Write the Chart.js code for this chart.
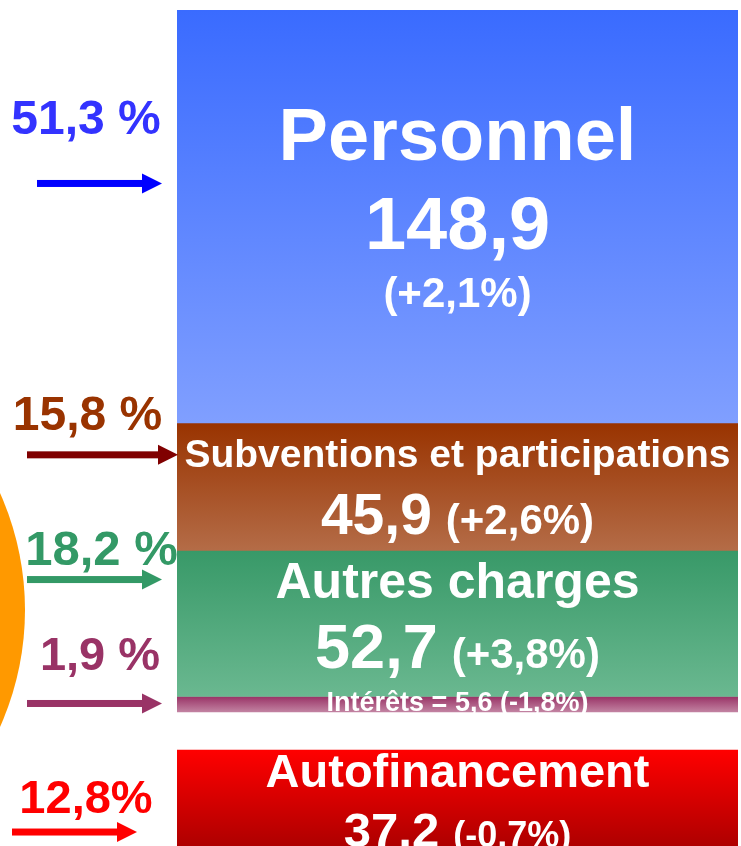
<!DOCTYPE html>
<html lang="fr">
<head>
<meta charset="UTF-8">
<title>Dépenses de fonctionnement</title>
<style>
  body { margin: 0; background: #fff; }
  #wrap { width: 741px; height: 846px; position: relative; }
</style>
</head>
<body>
<div id="wrap"><canvas id="myChart"></canvas></div>

<script src="https://cdn.jsdelivr.net/npm/chart.js"></script>
<script>
// values
const categories = ['Personnel', 'Subventions et participations', 'Autres charges', 'Intérêts', 'Autofinancement'];
const amounts = [148.9, 45.9, 52.7, 5.6, 37.2];
const changes = [2.1, 2.6, 3.8, -1.8, -0.7];
const shareLabels = ['51,3 %', '15,8 %', '18,2 %', '1,9 %', '12,8%'];

const topColors = ['#3a6bff', '#993300', '#389968', '#993366', '#ff0000'];
const bottomColors = ['#809fff', '#b46c47', '#6ab890', '#c283a2', '#a80000'];
const textColors = ['#3333ff', '#993300', '#339966', '#993366', '#ff0000'];
const arrowColors = ['#0000ff', '#800000', '#339966', '#993366', '#ff0000'];

function fr(v) { return String(v).replace('.', ','); }
function pct(v) { return '(' + (v > 0 ? '+' : '') + fr(v) + '%)'; }
function font(size) { return 'bold ' + size + 'px "Liberation Sans", Arial, sans-serif'; }

// charges stack on y, autofinancement sits on its own axis below a gap
function axisOf(i) { return i < 4 ? 'y' : 'y2'; }

function gradientFor(c, i) {
    const chart = c.chart;
    if (!chart.chartArea) return topColors[i];
    const scale = chart.scales[axisOf(i)];
    let start = 0;
    if (i < 4) {
        for (let k = 0; k < i; k++) start += amounts[k];
    }
    const y0 = scale.getPixelForValue(start);
    const y1 = scale.getPixelForValue(start + amounts[i]);
    const g = chart.ctx.createLinearGradient(0, y0, 0, y1);
    g.addColorStop(0, topColors[i]);
    g.addColorStop(1, bottomColors[i]);
    return g;
}

function drawArrow(ctx, x0, x1, y, color) {
    ctx.fillStyle = color;
    ctx.fillRect(x0, y - 3.5, x1 - x0 - 18, 7);
    ctx.beginPath();
    ctx.moveTo(x1 - 20, y - 10);
    ctx.lineTo(x1, y);
    ctx.lineTo(x1 - 20, y + 10);
    ctx.closePath();
    ctx.fill();
}

// draws "amount (change)" as one centered line with two font sizes
function drawPair(ctx, cx, y, a, sizeA, b, sizeB) {
    ctx.font = font(sizeA);
    const wa = ctx.measureText(a).width;
    ctx.font = font(sizeB);
    const wb = ctx.measureText(b).width;
    const gap = 14;
    let x = cx - (wa + gap + wb) / 2;
    ctx.textAlign = 'left';
    ctx.font = font(sizeA);
    ctx.fillText(a, x, y);
    ctx.font = font(sizeB);
    ctx.fillText(b, x + wa + gap, y);
}

const labelsPlugin = {
    id: 'labels',
    beforeDraw(chart) {
        // edge of the orange pie from the previous slide
        const ctx = chart.ctx;
        ctx.save();
        ctx.fillStyle = '#ff9900';
        ctx.beginPath();
        ctx.arc(-261, 610, 286, 0, Math.PI * 2);
        ctx.fill();
        ctx.restore();
    },
    afterDatasetsDraw(chart) {
        const ctx = chart.ctx;
        const area = chart.chartArea;
        const cx = (area.left + area.right) / 2;

        // left side: share label + arrow
        const arrowFrac = [0.42, 0.25, 0.2, 0.45];
        const arrowX = [[37, 162], [27, 178], [27, 162], [27, 162], [12, 137]];
        const pctX = [86, 87.5, 101.5, 100, 86];
        const pctSize = [48, 48, 49, 47, 47];
        const pctUp = [49, 25, 15, 33, 19];

        ctx.save();
        ctx.textBaseline = 'alphabetic';
        categories.forEach((name, i) => {
            const bar = chart.getDatasetMeta(i).data[0];
            const top = Math.min(bar.y, bar.base);
            const bottom = Math.max(bar.y, bar.base);
            const mid = (top + bottom) / 2;

            const ay = i < 4 ? top + arrowFrac[i] * (bottom - top) : top + 82;
            drawArrow(ctx, arrowX[i][0], arrowX[i][1], ay, arrowColors[i]);
            ctx.fillStyle = textColors[i];
            ctx.textAlign = 'center';
            ctx.font = font(pctSize[i]);
            ctx.fillText(shareLabels[i], pctX[i], ay - pctUp[i]);

            // text inside the box
            ctx.fillStyle = '#ffffff';
            ctx.textAlign = 'center';
            if (i === 0) {
                ctx.font = font(74);
                ctx.fillText(name, cx, top + 150);
                ctx.fillText(fr(amounts[i]), cx, top + 239);
                ctx.font = font(42);
                ctx.fillText(pct(changes[i]), cx, top + 297);
            } else if (i === 1) {
                ctx.font = font(39);
                ctx.fillText(name, cx, mid - 20);
                drawPair(ctx, cx, mid + 47, fr(amounts[i]), 57, pct(changes[i]), 42);
            } else if (i === 2) {
                ctx.font = font(50);
                ctx.fillText(name, cx, mid - 25);
                drawPair(ctx, cx, mid + 45, fr(amounts[i]), 63, pct(changes[i]), 42);
            } else if (i === 3) {
                ctx.font = font(27);
                ctx.fillText(name + ' = ' + fr(amounts[i]) + ' ' + pct(changes[i]), cx, bottom - 1);
            } else {
                ctx.font = font(47);
                ctx.fillText(name, cx, top + 37);
                drawPair(ctx, cx, top + 97, fr(amounts[i]), 49, pct(changes[i]), 36);
            }
        });
        ctx.restore();
    }
};

const ctx = document.getElementById('myChart');

new Chart(ctx, {
    type: 'bar',
    data: {
        labels: ['Dépenses'],
        datasets: categories.map((name, i) => ({
            label: name,
            data: [amounts[i]],
            yAxisID: axisOf(i),
            backgroundColor: c => gradientFor(c, i),
            borderWidth: 0,
            barPercentage: 1,
            categoryPercentage: 1
        }))
    },
    options: {
        responsive: true,
        maintainAspectRatio: false,
        animation: false,
        layout: {
            padding: { top: 10, left: 177, right: 3, bottom: 0 }
        },
        scales: {
            x: { stacked: true, display: false },
            y: { stacked: true, reverse: true, min: 0, max: 301.4, display: false },
            y2: { reverse: true, min: -266.8, max: 34.6, display: false }
        },
        plugins: {
            legend: { display: false },
            tooltip: { enabled: false }
        }
    },
    plugins: [labelsPlugin]
});
</script>
</body>
</html>
